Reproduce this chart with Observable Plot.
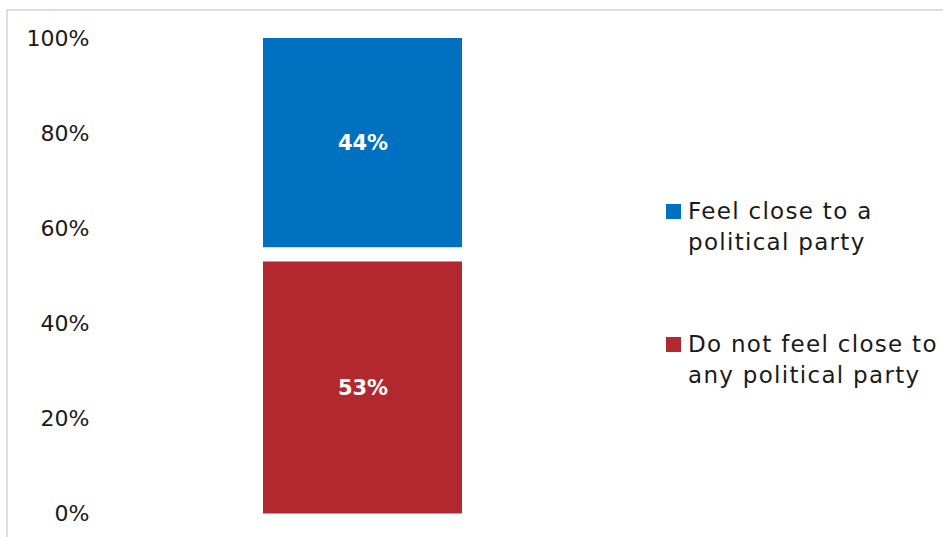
<!DOCTYPE html>
<html>
<head>
<meta charset="utf-8">
<script src="https://cdn.jsdelivr.net/npm/d3@7"></script>
<script src="https://cdn.jsdelivr.net/npm/@observablehq/plot@0.6"></script>
<style>
  html, body { margin: 0; padding: 0; background: #fff; }
  #wrap { position: relative; width: 943px; height: 537px; overflow: hidden; font-family: "DejaVu Sans", sans-serif; }
  #frame { position: absolute; left: 6px; top: 9px; width: 950px; height: 540px; border-top: 2px solid #dedede; border-left: 2px solid #dedede; box-sizing: border-box; }
  #chart { position: absolute; left: 0; top: 0; }
  #legend { position: absolute; left: 666px; top: 196px; font-size: 23px; letter-spacing: 1.3px; color: #1a1a1a; line-height: 31px; white-space: nowrap; }
  .item { display: flex; align-items: flex-start; }
  .sw { width: 15px; height: 15px; margin-top: 8px; margin-right: 7px; flex: none; }
</style>
</head>
<body>
<div id="wrap">
  <div id="frame"></div>
  <div id="chart"></div>
  <div id="legend"></div>
</div>
<script>
const category = ["All"];
const series = ["Do not feel close to any political party", "No answer", "Feel close to a political party"];
const values = [53, 3, 44];
const labels = ["53%", "", "44%"];
const colors = ["#B2282E", "none", "#0070C0"];
const yTicks = [0, 20, 40, 60, 80, 100];
const legendSeries = ["Feel close to a political party", "Do not feel close to any political party"];
const legendLines = [["Feel close to a", "political party"], ["Do not feel close to", "any political party"]];

const data = series.map((s, i) => ({cat: category[0], series: s, value: values[i], label: labels[i]}));

const chart = Plot.plot({
  width: 943,
  height: 537,
  marginTop: 38,
  marginBottom: 23.5,
  marginLeft: 96,
  marginRight: 314,
  style: {fontFamily: "DejaVu Sans, sans-serif", fontSize: "22px", background: "transparent"},
  x: {type: "band", domain: category, paddingInner: 0, paddingOuter: 0.839, axis: null},
  y: {domain: [0, 100], ticks: yTicks, tickFormat: d => d + "%", label: null},
  color: {domain: series, range: colors},
  marks: [
    Plot.axisY({ticks: yTicks, tickFormat: d => d + "%", tickSize: 0, tickPadding: 7, label: null, fill: "#1a1a1a", fontSize: 22}),
    Plot.barY(data, {x: "cat", y: "value", fill: "series", order: series}),
    Plot.text(data, Plot.stackY({x: "cat", y: "value", z: "series", order: series, text: "label", fill: "white", fontWeight: "bold", fontSize: 21}))
  ]
});
document.getElementById("chart").appendChild(chart);

const legend = document.getElementById("legend");
legendSeries.forEach((s, i) => {
  const item = document.createElement("div");
  item.className = "item";
  if (i > 0) item.style.marginTop = "71px";
  const sw = document.createElement("div");
  sw.className = "sw";
  sw.style.background = colors[series.indexOf(s)];
  const txt = document.createElement("div");
  txt.innerHTML = legendLines[i].join("<br>");
  item.appendChild(sw);
  item.appendChild(txt);
  legend.appendChild(item);
});
</script>
</body>
</html>
